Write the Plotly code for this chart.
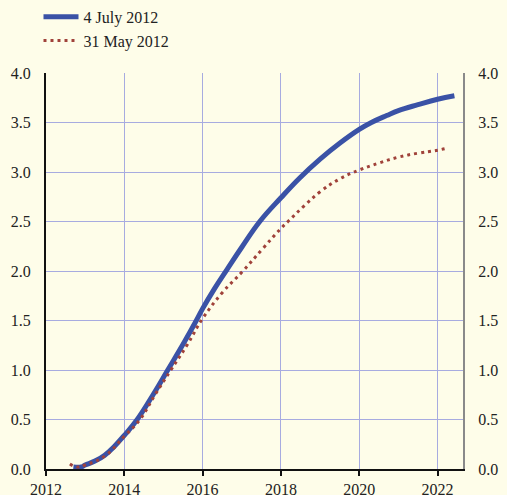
import plotly.graph_objects as go

# 4 July 2012 projection
july_years = [2012.70, 2012.90, 2013.00, 2013.25, 2013.50, 2013.75, 2014.00, 2014.33,
              2014.75, 2015.11, 2015.50, 2015.84, 2016.00, 2016.30, 2016.63, 2017.00,
              2017.46, 2018.00, 2018.48, 2019.00, 2019.50, 2020.00, 2020.31, 2020.70,
              2021.00, 2021.50, 2022.00, 2022.43]
july_values = [0.02, 0.02, 0.04, 0.08, 0.14, 0.23, 0.34, 0.50,
               0.76, 1.00, 1.26, 1.50, 1.62, 1.82, 2.02, 2.24,
               2.50, 2.74, 2.94, 3.13, 3.29, 3.43, 3.50, 3.57,
               3.62, 3.68, 3.735, 3.77]

# 31 May 2012 projection
may_years = [2012.61, 2012.80, 2013.00, 2013.50, 2014.00, 2014.40, 2014.80, 2015.19,
             2015.60, 2016.00, 2016.50, 2017.03, 2017.50, 2018.00, 2018.18, 2018.60,
             2019.00, 2019.50, 2020.00, 2020.50, 2021.00, 2021.50, 2022.00, 2022.18]
may_values = [0.05, 0.02, 0.04, 0.13, 0.33, 0.50, 0.76, 1.00,
              1.25, 1.52, 1.78, 2.00, 2.21, 2.43, 2.50, 2.66,
              2.80, 2.93, 3.02, 3.09, 3.15, 3.19, 3.22, 3.235]

x_ticks = [2012, 2014, 2016, 2018, 2020, 2022]
y_ticks = [0.0, 0.5, 1.0, 1.5, 2.0, 2.5, 3.0, 3.5, 4.0]

BG = "#fefde9"
GRID = "#a7abe0"
FONT = "Liberation Serif"

fig = go.Figure()
fig.add_trace(go.Scatter(x=july_years, y=july_values, mode="lines", name="4 July 2012",
                         line=dict(color="#3a52a6", width=5, shape="spline", smoothing=1.2)))
fig.add_trace(go.Scatter(x=may_years, y=may_values, mode="lines", name="31 May 2012",
                         line=dict(color="#a0423a", width=3, dash="3px,4px",
                                   shape="spline", smoothing=1.2)))
# invisible trace for right axis
fig.add_trace(go.Scatter(x=[2012], y=[0], yaxis="y2", mode="markers",
                         marker=dict(opacity=0), showlegend=False, hoverinfo="skip"))

fig.update_layout(
    width=507, height=495,
    paper_bgcolor=BG, plot_bgcolor=BG,
    margin=dict(l=46, r=44, t=73, b=26, autoexpand=False),
    font=dict(family=FONT, size=16, color="#222222"),
    showlegend=True,
    legend=dict(x=-0.018, y=1.185, xanchor="left", yanchor="top",
                bgcolor="rgba(0,0,0,0)",
                font=dict(family=FONT, size=16, color="#222222"),
                itemwidth=35, tracegroupgap=0),
    xaxis=dict(range=[2012, 2022.65], tickvals=x_ticks, ticktext=[str(v) for v in x_ticks],
               showgrid=True, gridcolor=GRID, gridwidth=1,
               showline=True, linecolor="#111111", linewidth=2,
               ticks="outside", ticklen=5, tickwidth=2, tickcolor="#111111",
               zeroline=False, fixedrange=True),
    yaxis=dict(range=[0, 4.0], tickvals=y_ticks, tickformat=".1f",
               showgrid=True, gridcolor=GRID, gridwidth=1,
               showline=True, linecolor="#111111", linewidth=2,
               ticks="", ticklabelstandoff=10, zeroline=False, fixedrange=True),
    yaxis2=dict(range=[0, 4.0], tickvals=y_ticks, tickformat=".1f", overlaying="y",
                side="right", showgrid=False, showline=True, linecolor="#8a8a8a",
                linewidth=2, ticks="", ticklabelstandoff=10, zeroline=False,
                fixedrange=True),
)

fig.write_html("out.html", config={"displayModeBar": False},
               post_script="document.body.style.margin='0';document.body.style.background='%s';" % BG)
